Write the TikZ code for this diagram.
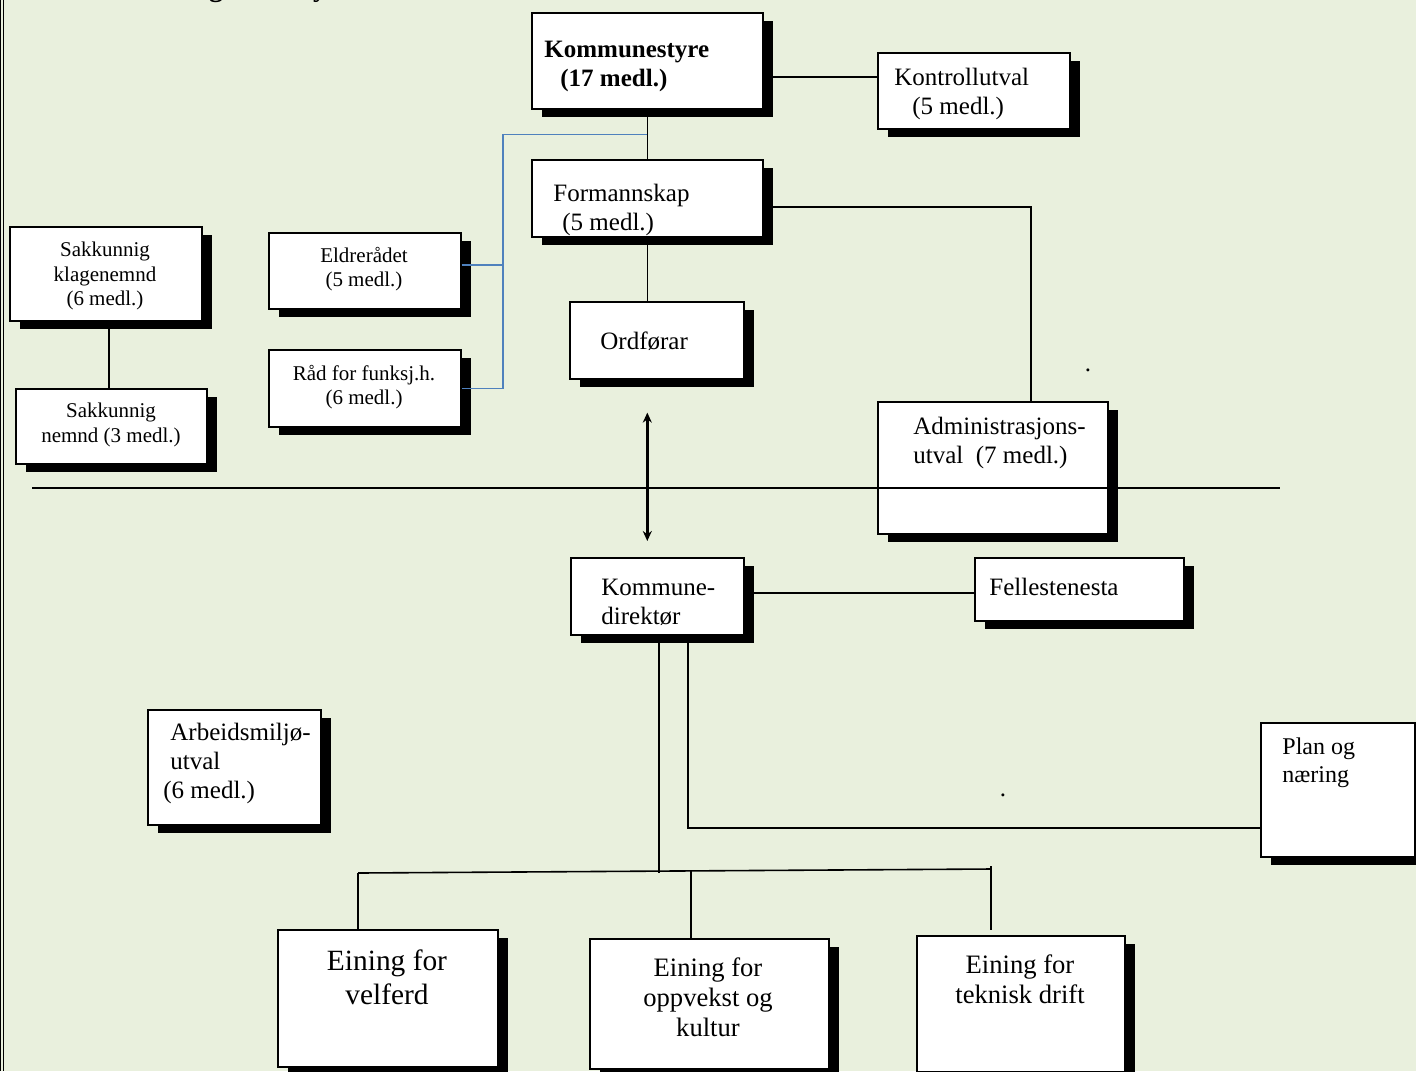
\documentclass[tikz,border=0pt]{standalone}
\usepackage{fontspec}
\setmainfont{Liberation Serif}
\usetikzlibrary{shadows,arrows.meta,calc}
\definecolor{bgc}{RGB}{233,240,221}
\definecolor{lineblue}{RGB}{79,129,189}
\tikzset{
  box/.style={draw=black, line width=0.8pt, fill=white, anchor=north west, inner sep=0pt,
    drop shadow={shadow xshift=5pt, shadow yshift=-4pt, fill=black, opacity=1}},
  txt/.style={inner sep=0pt, align=left, font=\fontsize{12.5}{14.5}\selectfont},
  small/.style={inner sep=0pt, align=center, font=\fontsize{10.5}{12.25}\selectfont},
  unitA/.style={inner sep=0pt, align=center, font=\fontsize{14.7}{17}\selectfont},
  unitB/.style={inner sep=0pt, align=center, font=\fontsize{13.3}{15}\selectfont},
  conn/.style={line width=0.8pt, draw=black},
  bconn/.style={line width=0.7pt, draw=lineblue},
  tip/.style={line width=1.2pt, {Stealth[length=5pt,width=4.5pt]}-{Stealth[length=5pt,width=4.5pt]}},
  titlefrag/.style={inner sep=0pt, font=\bfseries\fontsize{14}{16}\selectfont, anchor=base},
}
\begin{document}
\begin{tikzpicture}[x=0.5pt,y=-0.5pt]
\fill[bgc] (0,0) rectangle (1416,1071);
\useasboundingbox (0,0) rectangle (1416,1071);
% left double border
\draw[line width=0.5pt] (0.6,0) -- (0.6,1071);
\draw[line width=0.5pt] (3.8,0) -- (3.8,1071);
% cut-off title fragments
\node[titlefrag] (tg) at (216,-4) {g};
\node[titlefrag] (ty) at (320,-4) {y};

% boxes
\node[box, minimum width=115.5pt, minimum height=48pt] (ks) at (531,12) {};
\node[box, minimum width=96pt, minimum height=38pt] (ku) at (877,52) {};
\node[box, minimum width=115.5pt, minimum height=38.5pt] (fs) at (531,159) {};
\node[box, minimum width=87pt, minimum height=38.5pt] (of) at (569,301) {};
\node[box, minimum width=96pt, minimum height=47pt] (skn) at (9,226) {};
\node[box, minimum width=95.5pt, minimum height=37.5pt] (sn) at (15,388) {};
\node[box, minimum width=96pt, minimum height=38pt] (er) at (268,232) {};
\node[box, minimum width=96pt, minimum height=38.5pt] (rf) at (268,349) {};
\node[box, minimum width=115pt, minimum height=66pt] (au) at (877,401) {};
\node[box, minimum width=86.5pt, minimum height=38.5pt] (kd) at (570,557) {};
\node[box, minimum width=104.5pt, minimum height=31.5pt] (ft) at (974,557) {};
\node[box, minimum width=86.5pt, minimum height=57.5pt] (am) at (147,709) {};
\node[box, minimum width=77pt, minimum height=67pt] (pn) at (1260,722) {};
\node[box, minimum width=110pt, minimum height=68.5pt] (ev) at (277,929) {};
\node[box, minimum width=119.5pt, minimum height=65pt] (eo) at (589,938) {};
\node[box, minimum width=104pt, minimum height=68pt] (et) at (916,935) {};

% texts
\node[txt, anchor=west] (kst) at (544,66) {\textbf{Kommunestyre}\\\hspace*{8pt}\textbf{(17 medl.)}};
\node[txt, anchor=west] (kut) at (894,94) {Kontrollutval\\\hspace*{9pt}(5 medl.)};
\node[txt, anchor=west] (fst) at (553,210) {Formannskap\\\hspace*{4.5pt}(5 medl.)};
\node[txt, anchor=west] (oft) at (600,341) {Ordførar};
\node[small] (sknt) at (105,276) {Sakkunnig\\klagenemnd\\(6 medl.)};
\node[small] (snt) at (111,425) {Sakkunnig\\nemnd (3 medl.)};
\node[small] (ert) at (364,269) {Eldrerådet\\(5 medl.)};
\node[small] (rft) at (364,387) {Råd for funksj.h.\\(6 medl.)};
\node[txt, anchor=west] (aut) at (913,443) {Administrasjons-\\utval\ \ (7 medl.)};
\node[txt, anchor=west] (kdt) at (601,602) {Kommune-\\direktør};
\node[txt, anchor=west] (ftt) at (989,587) {Fellestenesta};
\node[txt, anchor=west] (amt) at (163,763) {\hspace*{3.5pt}Arbeidsmiljø-\\\hspace*{3.5pt}utval\\(6 medl.)};
\node[txt, anchor=west, font=\fontsize{12}{14}\selectfont] (pnt) at (1282,763) {Plan og\\næring};
\node[unitA] (evt) at (387,977) {Eining for\\velferd};
\node[unitB] (eot) at (708,997) {Eining for\\oppvekst og\\kultur};
\node[unitB] (ett) at (1020,979) {Eining for\\teknisk drift};
\node[txt] (dot1) at (1088,370) {.};
\node[txt] (dot2) at (1003,795) {.};

% connectors
\draw[conn] ($(ks.east)+(0,16)$) -- ($(ks.east -| ku.west)+(0,16)$);
\draw[conn] (ks.south) -- (fs.north);
\coordinate (bv) at (503,134);
\draw[bconn] ($(ks.south)!0.5!(fs.north)$) -| (bv |- rf.east) -- (rf.east);
\draw[bconn] ($(er.east)+(0,-6)$) -- ($(er.east -| bv)+(0,-6)$);
\draw[conn] ($(fs.east)+(0,8.5)$) -| ($(au.north)+(38,0)$);
\draw[conn] (fs.south) -- (fs.south |- of.north);
\draw[conn] ($(skn.south)+(3,0)$) -- ($(skn.south |- sn.north)+(3,0)$);
\draw[conn, tip] ($(fs.south |- of.south)+(0,33)$) -- ($(fs.south |- kd.north)+(0,-16)$);
\coordinate (hl) at (32,488);
\coordinate (hr) at (1280,488);
\draw[conn] (hl) -- (hr);
\draw[conn] ($(kd.east)+(0,-3.5)$) -- ($(kd.east -| ft.west)+(0,-3.5)$);
\coordinate (br1) at (358,873);
\coordinate (br3) at (991,869);
\draw[conn] ($(kd.south)+(1.5,0)$) -- ($(kd.south)+(1.5,237)$);
\draw[conn] ($(kd.south)+(30.5,0)$) |- ($(pn.west)+(0,38)$);
\draw[conn] (br1) -- (br3);
\draw[conn] (br1) -- (br1 |- ev.north);
\draw[conn] ($(eo.north)+(-18.5,-67)$) -- ($(eo.north)+(-18.5,0)$);
\draw[conn] ($(br3)+(0,-3)$) -- ($(br3 |- et.north)+(0,-5)$);
\end{tikzpicture}
\end{document}
